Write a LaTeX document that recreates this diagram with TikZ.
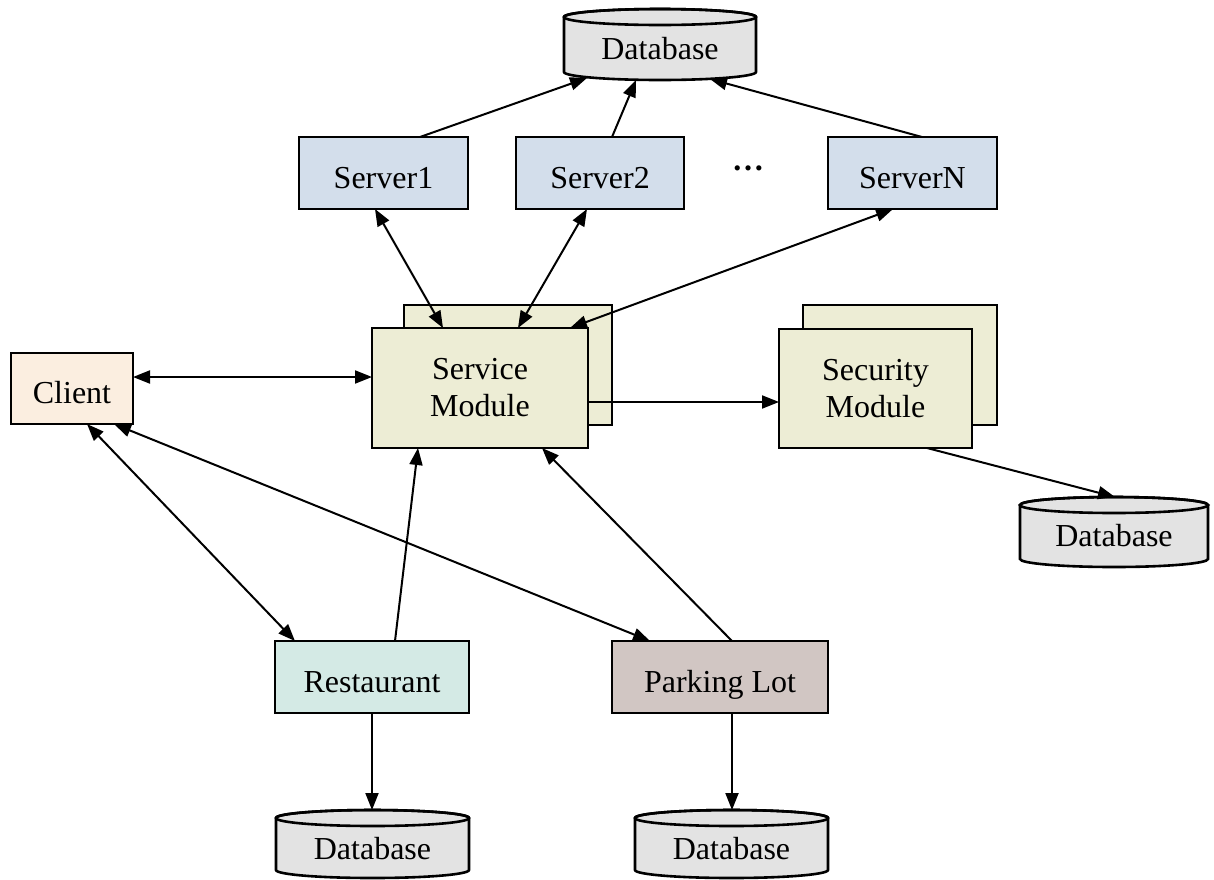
\documentclass[tikz,border=0pt]{standalone}
\usepackage{fontspec}
\setmainfont{Liberation Serif}
\usetikzlibrary{arrows.meta,calc}
\definecolor{srvfill}{RGB}{211,222,235}
\definecolor{modfill}{RGB}{237,237,213}
\definecolor{clifill}{RGB}{251,238,224}
\definecolor{resfill}{RGB}{212,234,229}
\definecolor{parkfill}{RGB}{209,198,195}
\definecolor{dbfill}{RGB}{227,227,227}
\newcommand\dbcyl[2]{%
  \filldraw[dbsty] ([shift={(0,8)}]#1.north west) -- ([shift={(0,-8)}]#1.south west)
    arc[start angle=180, end angle=0, x radius=#2, y radius=8]
    -- ([shift={(0,8)}]#1.north east)
    arc[start angle=0, end angle=-180, x radius=#2, y radius=8] -- cycle;
  \draw[dbsty, fill=none] ([shift={(0,8)}]#1.north) ellipse[x radius=#2, y radius=8];
}
\begin{document}
\begin{tikzpicture}[x=0.5pt,y=-0.5pt,
  every node/.style={font=\fontsize{16}{18.5}\selectfont, inner sep=0pt, outer sep=0pt},
  box/.style={draw=black, line width=1.3pt, rectangle, align=center},
  lowtext/.style={text height=15pt, text depth=0pt},
  dbnode/.style={rectangle, draw=none},
  dbsty/.style={fill=dbfill, draw=black, line width=1.3pt},
  conn/.style={line width=1pt, -{Triangle[length=8.5pt,width=6.5pt]}},
  bi/.style={line width=1pt, {Triangle[length=8.5pt,width=6.5pt]}-{Triangle[length=8.5pt,width=6.5pt]}}
]
\fill[white] (0,0) rectangle (1214,879);
\useasboundingbox (0,0) rectangle (1214,879);

% databases
\node[dbnode, minimum width=96pt, minimum height=35.5pt] (topdb) at (660,44.5) {};
\dbcyl{topdb}{96}
\node (topdbt) at ([shift={(0,4)}]topdb.center) {Database};

\node[dbnode, minimum width=94pt, minimum height=35pt] (rdb) at (1114,532) {};
\dbcyl{rdb}{94}
\node (rdbt) at ([shift={(0,4)}]rdb.center) {Database};

\node[dbnode, minimum width=96.5pt, minimum height=34pt] (bldb) at (372.5,844) {};
\dbcyl{bldb}{96.5}
\node (bldbt) at ([shift={(0,5)}]bldb.center) {Database};

\node[dbnode, minimum width=96.5pt, minimum height=34pt] (brdb) at (731.5,844) {};
\dbcyl{brdb}{96.5}
\node (brdbt) at ([shift={(0,5)}]brdb.center) {Database};

% servers
\node[box, lowtext, fill=srvfill, minimum width=84.5pt, minimum height=36pt] (s1) at (383.5,173) {Server1};
\node[box, lowtext, fill=srvfill, minimum width=84pt, minimum height=36pt] (s2) at (600,173) {Server2};
\node[box, lowtext, fill=srvfill, minimum width=84.5pt, minimum height=36pt] (sn) at (912.5,173) {ServerN};
\node[anchor=base] (dots) at (748,170) {\textbf{…}};

% modules
\node[box, fill=modfill, minimum width=104pt, minimum height=60pt] (svcb) at (508,365) {};
\node[box, fill=modfill, minimum width=108pt, minimum height=60pt] (svc) at (480,388) {Service\\Module};
\node[box, fill=modfill, minimum width=97pt, minimum height=60pt] (secb) at (900,365) {};
\node[box, fill=modfill, minimum width=96.5pt, minimum height=59.5pt] (sec) at (875.5,388.5) {Security\\Module};

% others
\node[box, lowtext, fill=clifill, minimum width=61pt, minimum height=35.5pt] (cli) at (72,388.5) {Client};
\node[box, lowtext, fill=resfill, minimum width=97pt, minimum height=36pt] (rest) at (372,677) {Restaurant};
\node[box, lowtext, fill=parkfill, minimum width=108pt, minimum height=36pt] (park) at (720,677) {Parking Lot};

% connectors
\draw[conn] ([shift={(36.5,-36)}]s1.center) -- ([shift={(-73,33.5)}]topdb.center);
\draw[conn] ([shift={(12,-36)}]s2.center) -- ([shift={(-24,35.5)}]topdb.center);
\draw[conn] ([shift={(9.5,-36)}]sn.center) -- ([shift={(50,34.5)}]topdb.center);

\draw[bi] ([shift={(-8.5,36)}]s1.center) -- ([shift={(-37,-60)}]svc.center);
\draw[bi] ([shift={(-13,36)}]s2.center) -- ([shift={(38,-60)}]svc.center);
\draw[bi] ([shift={(-19.5,36)}]sn.center) -- ([shift={(90,-60)}]svc.center);

\draw[bi] ([shift={(61,-11.5)}]cli.center) -- ([shift={(-108,-11)}]svc.center);
\draw[conn] ([shift={(108,14)}]svc.center) -- ([shift={(-96.5,13.5)}]sec.center);
\draw[conn] ([shift={(51.5,59.5)}]sec.center) -- ([shift={(1,-35)}]rdb.center);

\draw[bi] ([shift={(15,35.5)}]cli.center) -- ([shift={(-77,-36)}]rest.center);
\draw[bi] ([shift={(42,35.5)}]cli.center) -- ([shift={(-70,-36)}]park.center);
\draw[conn] ([shift={(23,-36)}]rest.center) -- ([shift={(-62,60)}]svc.center);
\draw[conn] ([shift={(12,-36)}]park.center) -- ([shift={(62,60)}]svc.center);

\draw[conn] ([shift={(0,36)}]rest.center) -- ([shift={(-0.5,-34)}]bldb.center);
\draw[conn] ([shift={(12,36)}]park.center) -- ([shift={(0.5,-34)}]brdb.center);
\end{tikzpicture}
\end{document}
